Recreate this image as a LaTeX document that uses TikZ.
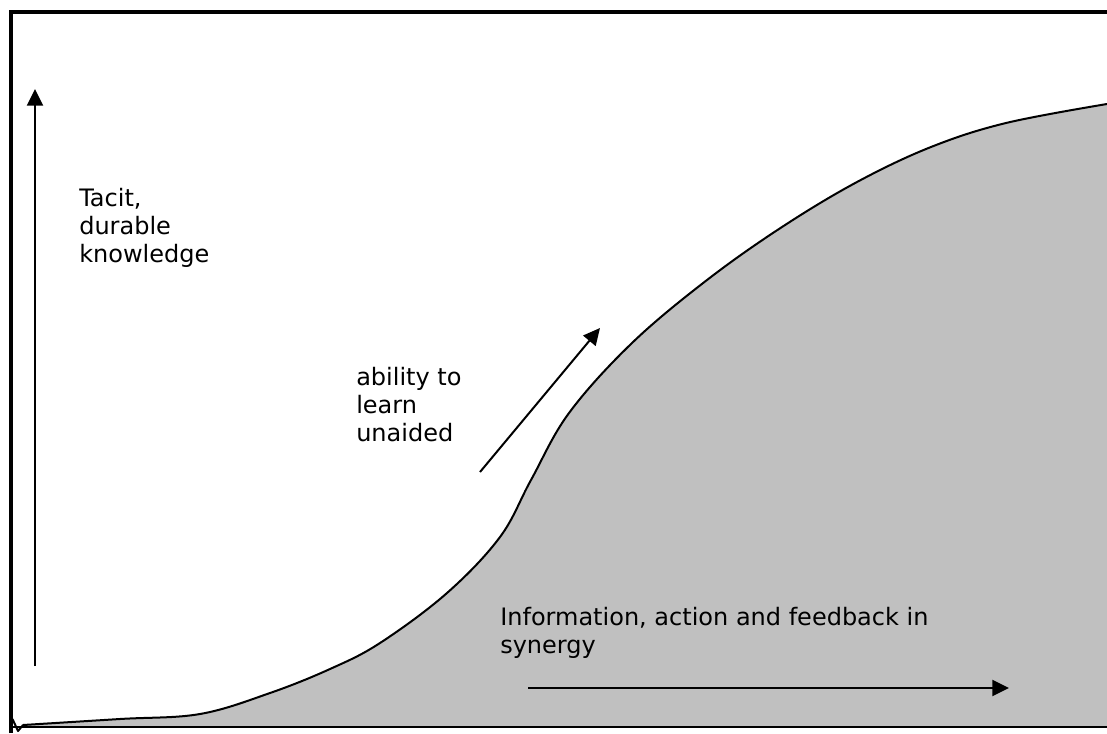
\documentclass[tikz,border=0pt]{standalone}
\usepackage{fontspec}
\setmainfont{DejaVu Sans}
\usetikzlibrary{arrows.meta}
\definecolor{fillgray}{RGB}{192,192,192}
\tikzset{
  lbl/.style={font=\fontsize{18pt}{21pt}\selectfont, align=left, inner sep=0pt, anchor=base west},
  arr/.style={line width=1.5pt, -{Triangle[length=12.5pt,width=12pt]}},
  curveline/.style={line width=1.5pt, line join=round},
}
\begin{document}
\begin{tikzpicture}[x=0.75pt,y=-0.75pt]
\useasboundingbox (0,0) rectangle (1107,733);
\def\curvepts{(23,725) (120,719) (200,714) (270,693) (330,669) (380,643) (447,593) (500,537) (531,480) (569,413) (632,343) (707,280) (782,227) (857,182) (931,147) (1006,123) (1107,104)}
% gray area
\fill[fillgray] plot[smooth,tension=0.6] coordinates {\curvepts} -- (1107,727) -- (23,727) -- cycle;
% bottom line
\coordinate (bl) at (13,727);
\coordinate (br) at (1107,727);
\draw[line width=1.5pt] (bl) -- (br);
% curve
\draw[curveline] (12.5,719) -- (18,731) -- (23,725) plot[smooth,tension=0.6] coordinates {\curvepts};
% frame (top and left)
\coordinate (fbl) at (11,733);
\coordinate (ftl) at (11,12);
\coordinate (ftr) at (1107,12);
\draw[line width=3pt, line join=miter] (fbl) -- (ftl) -- (ftr);
% labels (anchored at the baseline of the last line)
\node[lbl] (tacit) at (79,262) {Tacit,\\durable\\knowledge};
\node[lbl] (ability) at (356,441) {ability to\\learn\\unaided};
\node[lbl] (info) at (500,653) {Information, action and feedback in\\synergy};
% arrows
\coordinate (v0) at (35,666);
\coordinate (v1) at (35,89);
\draw[arr] (v0) -- (v1);
\coordinate (d0) at (480,472);
\coordinate (d1) at (600,328);
\draw[arr] (d0) -- (d1);
\coordinate (h0) at (528,688);
\coordinate (h1) at (1009,688);
\draw[arr] (h0) -- (h1);
\end{tikzpicture}
\end{document}
